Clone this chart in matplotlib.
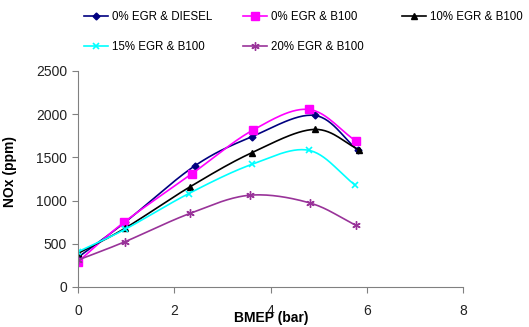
import numpy as np
import matplotlib
matplotlib.use("Agg")
import matplotlib.pyplot as plt
from matplotlib.lines import Line2D

plt.rcParams['font.family'] = ['Liberation Sans', 'DejaVu Sans']

# BMEP (bar) and NOx (ppm)
x_diesel = [0.0, 0.97, 2.42, 3.61, 4.91, 5.81]
nox_diesel = [343, 747, 1401, 1740, 1986, 1582]
x_b100 = [0.0, 0.95, 2.37, 3.63, 4.79, 5.76]
nox_b100 = [292, 747, 1313, 1816, 2055, 1693]
x_egr10 = [0.0, 0.97, 2.32, 3.61, 4.91, 5.83]
nox_egr10 = [389, 678, 1158, 1555, 1824, 1590]
x_egr15 = [0.0, 0.97, 2.30, 3.61, 4.79, 5.74]
nox_egr15 = [408, 666, 1082, 1420, 1582, 1185]
x_egr20 = [0.0, 0.97, 2.32, 3.56, 4.81, 5.76]
nox_egr20 = [312, 523, 851, 1062, 973, 716]

labels = ['0% EGR & DIESEL', '0% EGR & B100', '10% EGR & B100',
          '15% EGR & B100', '20% EGR & B100']


def smooth(x, y, n=30):
    # catmull-rom through the points, like excel's smoothed line
    x = np.asarray(x, float)
    y = np.asarray(y, float)
    px = np.concatenate([[2*x[0]-x[1]], x, [2*x[-1]-x[-2]]])
    py = np.concatenate([[2*y[0]-y[1]], y, [2*y[-1]-y[-2]]])
    t = np.linspace(0, 1, n)
    xs, ys = [], []
    for i in range(1, len(px)-2):
        for p, out in ((px, xs), (py, ys)):
            p0, p1, p2, p3 = p[i-1], p[i], p[i+1], p[i+2]
            out.append(0.5*((2*p1) + (-p0+p2)*t + (2*p0-5*p1+4*p2-p3)*t**2
                            + (-p0+3*p1-3*p2+p3)*t**3))
    return np.concatenate(xs), np.concatenate(ys)


W, H = 529, 327
fig = plt.figure(figsize=(W/100, H/100), dpi=100)
ax = fig.add_axes([78/W, 1-287/H, 385.5/W, 216/H])

series = [
    (x_diesel, nox_diesel, '#000080', 'D', 3.5, 1.0),
    (x_b100, nox_b100, '#FF00FF', 's', 5.5, 1.0),
    (x_egr10, nox_egr10, 'black', '^', 5, 1.0),
    (x_egr15, nox_egr15, '#00FFFF', 'x', 5, 1.2),
    (x_egr20, nox_egr20, '#993399', (6, 2, 0), 6, 1.0),
]
handles = []
for (xv, yv, col, mk, ms, mew), lab in zip(series, labels):
    sx, sy = smooth(xv, yv)
    ax.plot(sx, sy, color=col, lw=1.2)
    ax.plot(xv, yv, linestyle='none', marker=mk, ms=ms, color=col, mew=mew)
    handles.append(Line2D([], [], color=col, lw=1.2, marker=mk, ms=ms,
                          mew=mew, label=lab))

ax.set_xlim(0, 8)
ax.set_ylim(0, 2500)
ax.set_xticks([0, 2, 4, 6, 8])
ax.set_yticks(np.arange(0, 2501, 500))
ax.spines['top'].set_visible(False)
ax.spines['right'].set_visible(False)
ax.spines['left'].set_color('#808080')
ax.spines['bottom'].set_color('#808080')
ax.tick_params(colors='#808080', labelcolor='#222222', labelsize=10, length=4)
ax.tick_params(axis='x', pad=8)
ax.tick_params(axis='y', pad=4)
ax.set_xlabel('BMEP (bar)', fontweight='bold', fontsize=10, labelpad=-5)
ax.set_ylabel('NOx (ppm)', fontweight='bold', fontsize=10)
ax.yaxis.set_label_coords(-0.158, 0.537)

# legend laid out in excel's fixed columns
cols = [[0, 3], [1, 4], [2]]
col_x = [84, 243, 402]
for idx, cx in zip(cols, col_x):
    leg = fig.legend(handles=[handles[i] for i in idx], loc='upper left',
                     bbox_to_anchor=(cx/W, 1-11/H), frameon=False,
                     fontsize=8.3, handlelength=2.1, handletextpad=0.35,
                     labelspacing=1.55, borderpad=0, borderaxespad=0)

fig.savefig('out.png', dpi=100)
